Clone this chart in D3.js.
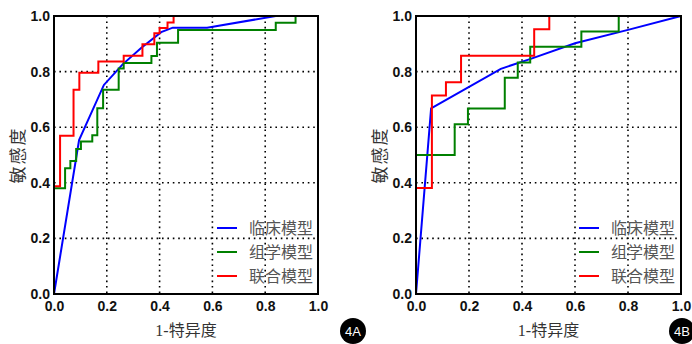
<!DOCTYPE html>
<html>
<head>
<meta charset="utf-8">
<script src="https://cdn.jsdelivr.net/npm/d3@7"></script>
<style>
  body { margin: 0; background: #fff; }
  svg text { font-family: "Liberation Sans", Arial, sans-serif; }
</style>
</head>
<body>
<div id="chart-area"></div>
<script>
// tick values / labels
const ticks = [0, 0.2, 0.4, 0.6, 0.8, 1.0]
const gridTicks = [0.2, 0.4, 0.6, 0.8]
const seriesNames = ["临床模型", "组学模型", "联合模型"]
const xTitle = "1-特异度"
const yTitle = "敏感度"

// panel 4A  (fpr, tpr) points
const aClinical = [[0,0],[0.095,0.554],[0.189,0.752],[0.26,0.826],[0.33,0.885],[0.406,0.942],[0.45,0.958],[0.58,0.958],[0.84,1],[1,1]]
const aRadiomics = [[0,0],[0,0.38],[0.042,0.38],[0.042,0.452],[0.062,0.452],[0.062,0.478],[0.084,0.478],[0.084,0.522],[0.102,0.522],[0.102,0.549],
  [0.145,0.549],[0.145,0.571],[0.164,0.571],[0.164,0.668],[0.186,0.668],[0.186,0.735],[0.245,0.735],[0.245,0.811],[0.264,0.811],[0.264,0.831],
  [0.369,0.831],[0.369,0.856],[0.39,0.856],[0.39,0.904],[0.47,0.904],[0.47,0.95],[0.84,0.95],[0.84,0.976],[0.915,0.976],[0.915,1],[1,1]]
const aCombined = [[0,0],[0,0.388],[0.023,0.388],[0.023,0.569],[0.074,0.569],[0.074,0.735],[0.096,0.735],[0.096,0.796],[0.168,0.796],[0.168,0.836],
  [0.264,0.836],[0.264,0.857],[0.335,0.857],[0.335,0.898],[0.38,0.898],[0.38,0.938],[0.40,0.938],[0.40,0.957],[0.43,0.957],[0.43,0.977],
  [0.453,0.977],[0.453,1],[1,1]]

// panel 4B
const bClinical = [[0,0],[0.057,0.668],[0.32,0.81],[0.43,0.845],[0.6,0.902],[0.8,0.95],[1,1]]
const bRadiomics = [[0,0],[0,0.5],[0.146,0.5],[0.146,0.611],[0.196,0.611],[0.196,0.667],[0.335,0.667],[0.335,0.778],[0.384,0.778],[0.384,0.833],
  [0.431,0.833],[0.431,0.889],[0.624,0.889],[0.624,0.944],[0.765,0.944],[0.765,1],[1,1]]
const bCombined = [[0,0],[0,0.381],[0.06,0.381],[0.06,0.714],[0.113,0.714],[0.113,0.762],[0.17,0.762],[0.17,0.857],[0.446,0.857],[0.446,0.952],
  [0.503,0.952],[0.503,1],[1,1]]

const COLORS = ["#0000ff", "#008000", "#ff0000"]

const svg = d3.select("#chart-area").append("svg")
  .attr("width", 692)
  .attr("height", 344)

function panel(left, right, curves, legendX, label, badgeX) {
  const TOP = 16, BOTTOM = 294
  const x = d3.scaleLinear().domain([0, 1]).range([left, right])
  const y = d3.scaleLinear().domain([0, 1]).range([BOTTOM, TOP])
  const g = svg.append("g")

  // dotted grid
  g.selectAll(".gx").data(gridTicks).enter().append("line")
    .attr("x1", d => x(d)).attr("x2", d => x(d))
    .attr("y1", TOP).attr("y2", BOTTOM)
    .attr("stroke", "#000").attr("stroke-width", 1.6)
    .attr("stroke-dasharray", "1.6,3.8")
  g.selectAll(".gy").data(gridTicks).enter().append("line")
    .attr("x1", left).attr("x2", right)
    .attr("y1", d => y(d)).attr("y2", d => y(d))
    .attr("stroke", "#000").attr("stroke-width", 1.6)
    .attr("stroke-dasharray", "1.6,3.8")

  // curves
  const line = d3.line().x(d => x(d[0])).y(d => y(d[1]))
  curves.forEach((c, i) => {
    g.append("path").datum(c)
      .attr("d", line)
      .attr("fill", "none")
      .attr("stroke", COLORS[i])
      .attr("stroke-width", 2)
  })

  // frame
  g.append("rect")
    .attr("x", left).attr("y", TOP)
    .attr("width", right - left).attr("height", BOTTOM - TOP)
    .attr("fill", "none").attr("stroke", "#000").attr("stroke-width", 2)

  // axes
  const xa = g.append("g").attr("transform", `translate(0,${BOTTOM})`)
    .call(d3.axisBottom(x).tickValues(ticks).tickFormat(d3.format(".1f")).tickSize(0).tickPadding(7))
  const ya = g.append("g").attr("transform", `translate(${left},0)`)
    .call(d3.axisLeft(y).tickValues(ticks).tickFormat(d3.format(".1f")).tickSize(0).tickPadding(4))
  ;[xa, ya].forEach(a => {
    a.select(".domain").remove()
    a.selectAll("text")
      .attr("font-size", 14).attr("font-weight", "bold")
      .attr("font-family", "'Liberation Sans', Arial, sans-serif")
      .attr("fill", "#111")
  })

  // titles
  g.append("text")
    .attr("x", (left + right) / 2).attr("y", 336)
    .attr("text-anchor", "middle")
    .attr("font-size", 16).attr("fill", "#333")
    .style("font-family", "'Liberation Serif', 'Noto Sans CJK SC', serif")
    .text(xTitle)
  g.append("text")
    .attr("transform", `translate(${left - 30},${(TOP + BOTTOM) / 2}) rotate(-90)`)
    .attr("text-anchor", "middle")
    .attr("font-size", 17).attr("fill", "#333")
    .style("font-family", "'Noto Sans CJK SC', sans-serif")
    .style("letter-spacing", "2px")
    .text(yTitle)

  // legend
  const ly = [228, 252, 276]
  seriesNames.forEach((n, i) => {
    g.append("line")
      .attr("x1", legendX).attr("x2", legendX + 20)
      .attr("y1", ly[i]).attr("y2", ly[i])
      .attr("stroke", COLORS[i]).attr("stroke-width", 2)
    g.append("text")
      .attr("x", legendX + 32).attr("y", ly[i] + 6)
      .attr("font-size", 16).attr("fill", "#555")
      .style("font-family", "'Noto Sans CJK SC', sans-serif")
      .text(n)
  })

  // badge
  g.append("circle").attr("cx", badgeX).attr("cy", 331).attr("r", 13).attr("fill", "#000")
  g.append("text")
    .attr("x", badgeX).attr("y", 336)
    .attr("text-anchor", "middle")
    .attr("font-size", 13).attr("fill", "#fff")
    .text(label)
}

panel(54, 318, [aClinical, aRadiomics, aCombined], 217, "4A", 353)
panel(416, 681, [bClinical, bRadiomics, bCombined], 579, "4B", 682)
</script>
</body>
</html>
